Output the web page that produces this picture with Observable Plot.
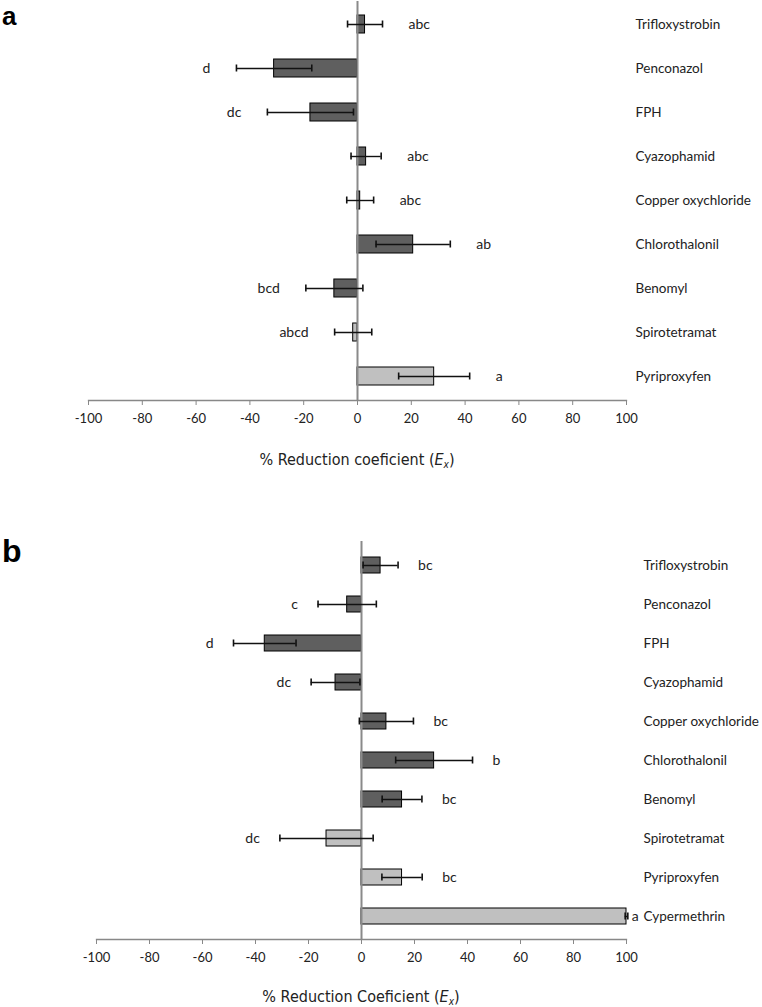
<!DOCTYPE html>
<html>
<head>
<meta charset="utf-8">
<script src="https://cdn.jsdelivr.net/npm/d3@7"></script>
<script src="https://cdn.jsdelivr.net/npm/@observablehq/plot@0.6"></script>
<style>
  html, body { margin: 0; padding: 0; background: #fff; }
  #root { position: relative; width: 762px; height: 1007px; overflow: hidden; }
  .panel { position: absolute; left: 0; }
  .tag { position: absolute; left: 2px; font-family: "Liberation Sans", Arial, sans-serif; font-weight: bold; line-height: normal; color: #000; }
  .xtitle { position: absolute; text-align: center; font-family: "Liberation Sans Narrow", "DejaVu Sans Condensed", "Liberation Sans", sans-serif; font-stretch: condensed; font-size: 16px; line-height: 20px; color: #222; }
  .xtitle sub { font-size: 10px; vertical-align: -3px; }
</style>
</head>
<body>
<div id="root"></div>
<script>
// ---- Panel a data ----
const catsA = ["Trifloxystrobin", "Penconazol", "FPH", "Cyazophamid", "Copper oxychloride", "Chlorothalonil", "Benomyl", "Spirotetramat", "Pyriproxyfen"];
const valuesA = [2.8, -31, -17.5, 3.2, 1, 20.7, -8.6, -1.6, 28.5];
const errorsA = [6.5, 14, 16, 5.6, 5, 13.8, 10.6, 6.9, 13.2];
const lettersA = ["abc", "d", "dc", "abc", "abc", "ab", "bcd", "abcd", "a"];
const groupsA = ["dark", "dark", "dark", "dark", "dark", "dark", "dark", "light", "light"];

// ---- Panel b data ----
const catsB = ["Trifloxystrobin", "Penconazol", "FPH", "Cyazophamid", "Copper oxychloride", "Chlorothalonil", "Benomyl", "Spirotetramat", "Pyriproxyfen", "Cypermethrin"];
const valuesB = [7.2, -5.4, -36.5, -9.8, 9.4, 27.4, 15.3, -13.2, 15.3, 100];
const errorsB = [6.6, 11, 11.8, 9.2, 10.2, 14.5, 7.5, 17.6, 7.6, 0.5];
const lettersB = ["bc", "c", "d", "dc", "bc", "b", "bc", "dc", "bc", "a"];
const groupsB = ["dark", "dark", "dark", "dark", "dark", "dark", "dark", "light", "light", "light"];

const xTicks = [-100, -80, -60, -40, -20, 0, 20, 40, 60, 80, 100];

function panel(cats, values, errors, letters, groups, o) {
  const data = cats.map((c, i) => ({c, v: values[i], e: errors[i], l: letters[i], g: groups[i]}));
  const lo = d => d.v - d.e;
  const hi = d => d.v + d.e;
  return Plot.plot({
    width: 762,
    height: o.height,
    marginLeft: o.left,
    marginRight: 762 - o.right,
    marginTop: o.top,
    marginBottom: o.bottom,
    x: {domain: [-100, 100]},
    y: {domain: cats, paddingInner: o.pad, paddingOuter: o.pad / 2},
    color: {domain: ["dark", "light"], range: ["#5f5f5f", "#c0c0c0"]},
    style: {fontFamily: "Lato, 'Open Sans', sans-serif", fontSize: "13px", color: "#222", background: "#fff"},
    marks: [
      Plot.barX(data, {x1: 0, x2: "v", y: "c", fill: "g", stroke: "#000", strokeWidth: 1}),
      Plot.ruleX([0], {stroke: "#8a8a8a", strokeWidth: 2}),
      Plot.ruleY(data, {x1: lo, x2: hi, y: "c", stroke: "#111", strokeWidth: 1.4}),
      Plot.tickX(data, {x: lo, y: "c", insetTop: o.cap, insetBottom: o.cap, stroke: "#111", strokeWidth: 1.6}),
      Plot.tickX(data, {x: hi, y: "c", insetTop: o.cap, insetBottom: o.cap, stroke: "#111", strokeWidth: 1.6}),
      Plot.text(data.filter(d => d.v >= 0 && hi(d) < 95), {x: hi, y: "c", text: "l", textAnchor: "start", dx: o.dx, fill: "#222", fontSize: 14}),
      Plot.text(data.filter(d => d.v >= 0 && hi(d) >= 95), {x: hi, y: "c", text: "l", textAnchor: "start", dx: 4, fill: "#222", fontSize: 14}),
      Plot.text(data.filter(d => d.v < 0), {x: lo, y: "c", text: "l", textAnchor: "end", dx: -o.dx, fill: "#222", fontSize: 14}),
      Plot.frame({anchor: "bottom", stroke: "#888", strokeWidth: 1.3}),
      Plot.axisX({ticks: xTicks, tickSize: 5, tickPadding: 8, stroke: "#888", label: null, tickFormat: d => String(d)}),
      Plot.axisY({anchor: "right", tickSize: 0, tickPadding: o.ypad, label: null, fontSize: 13.5})
    ]
  });
}

const root = document.getElementById("root");

function place(el, top) {
  const w = document.createElement("div");
  w.className = "panel";
  w.style.top = top + "px";
  w.appendChild(el);
  root.appendChild(w);
}

place(panel(catsA, valuesA, errorsA, lettersA, groupsA,
  {height: 440, top: 1, bottom: 40, left: 88, right: 626, pad: 0.59, cap: 5.5, dx: 26, ypad: 9}), 0);
place(panel(catsB, valuesB, errorsB, lettersB, groupsB,
  {height: 480, top: 41, bottom: 41, left: 96, right: 626, pad: 0.6, cap: 4.5, dx: 20, ypad: 17}), 500);

function addTag(txt, size, top) {
  const d = document.createElement("div");
  d.className = "tag";
  d.style.fontSize = size + "px";
  d.style.top = top + "px";
  d.textContent = txt;
  root.appendChild(d);
}
addTag("a", 26, 1);
addTag("b", 32, 533);

function addTitle(html, cx, cy) {
  const d = document.createElement("div");
  d.className = "xtitle";
  d.style.left = "0px";
  d.style.width = (2 * cx) + "px";
  d.style.top = (cy - 10) + "px";
  d.innerHTML = html;
  root.appendChild(d);
}
addTitle("% Reduction coeficient (<i>E<sub>x</sub></i>)", 357, 460);
addTitle("% Reduction Coeficient (<i>E<sub>x</sub></i>)", 361, 997);
</script>
</body>
</html>
